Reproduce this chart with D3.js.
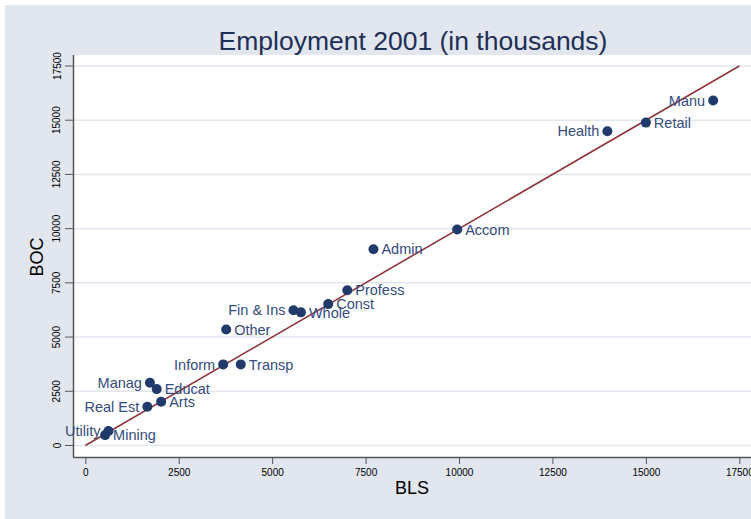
<!DOCTYPE html>
<html><head><meta charset="utf-8">
<script src="https://cdn.jsdelivr.net/npm/d3@7"></script>
<style>body{margin:0;background:#fff}svg{display:block}text{font-family:"Liberation Sans",Arial,sans-serif}</style>
</head><body><svg id="c" width="751" height="519"></svg>
<script>
const labels = ["Manu","Retail","Health","Accom","Admin","Profess","Const","Whole","Fin & Ins","Other","Inform","Transp","Manag","Educat","Arts","Real Est","Utility","Mining"];
const bls = [16800,15000,13970,9950,7710,7010,6500,5770,5570,3770,3690,4160,1730,1910,2030,1660,620,530];
const boc = [15910,14890,14490,9960,9050,7160,6520,6140,6240,5350,3740,3740,2890,2600,2020,1790,670,480];
const labelLeft = ["Manu","Health","Fin & Ins","Inform","Manag","Real Est","Utility"];
const ticks = [0,2500,5000,7500,10000,12500,15000,17500];
const fitLine = [0,17500];

const svg = d3.select("#c");
svg.append("rect").attr("x",5).attr("y",5).attr("width",760).attr("height",520).attr("fill","#e1e6ef");
const x = d3.scaleLinear().domain([0,17500]).range([85.3,739.3]);
const y = d3.scaleLinear().domain([0,17500]).range([445.5,66]);
const L=73, T=55, B=457;
svg.append("rect").attr("x",L).attr("y",T).attr("width",760-L).attr("height",B-T).attr("fill","#fff");
// grid
svg.append("g").selectAll("line").data(ticks).join("line")
  .attr("x1",L).attr("x2",760).attr("y1",d=>y(d)).attr("y2",d=>y(d))
  .attr("stroke","#e1e6ef").attr("stroke-width",1.5);
// axes
const ya = svg.append("g").attr("transform",`translate(${L},0)`)
  .call(d3.axisLeft(y).tickValues(ticks).tickSize(8).tickFormat(d3.format("d")));
ya.select(".domain").attr("d",`M0.5,${T}V${B}`);
ya.selectAll(".tick").attr("transform",null);
ya.selectAll(".tick line").attr("y1",d=>y(d)).attr("y2",d=>y(d)).attr("x2",-8);
ya.selectAll(".tick text").each(function(d){
  d3.select(this).attr("x",-16).attr("y",y(d)).attr("dy","0.35em")
    .attr("text-anchor","middle").attr("transform",`rotate(-90,-16,${y(d)})`);
}).style("font-size","10px");
const xa = svg.append("g").attr("transform",`translate(0,${B})`)
  .call(d3.axisBottom(x).tickValues(ticks).tickSize(7).tickPadding(5).tickFormat(d3.format("d")));
xa.select(".domain").attr("d",`M${L},0.5H760`);
xa.selectAll("text").style("font-size","10px");
svg.selectAll(".domain").attr("stroke","#555").attr("stroke-width",1.5);
svg.selectAll(".tick line").attr("stroke","#555");
svg.selectAll(".tick text").attr("fill","#000");
// line
svg.append("line").attr("x1",x(fitLine[0])).attr("y1",y(fitLine[0])).attr("x2",x(fitLine[1])).attr("y2",y(fitLine[1]))
  .attr("stroke","#90353b").attr("stroke-width",1.6);
// points
const data = labels.map((l,i)=>({l,bx:bls[i],by:boc[i]}));
svg.append("g").selectAll("circle").data(data).join("circle")
  .attr("cx",d=>x(d.bx)).attr("cy",d=>y(d.by)).attr("r",5).attr("fill","#1f3a6b");
svg.append("g").selectAll("text").data(data).join("text")
  .attr("x",d=>labelLeft.includes(d.l)?x(d.bx)-8:x(d.bx)+8)
  .attr("y",d=>y(d.by)).attr("dy","0.36em")
  .attr("text-anchor",d=>labelLeft.includes(d.l)?"end":"start")
  .attr("fill","#344c7e").style("font-size","14.5px").text(d=>d.l);
// titles
svg.append("text").attr("x",413).attr("y",50).attr("text-anchor","middle").attr("fill","#1e2f55")
  .style("font-size","26.5px").text("Employment 2001 (in thousands)");
svg.append("text").attr("x",412).attr("y",494).attr("text-anchor","middle").style("font-size","18px").text("BLS");
svg.append("text").attr("transform","translate(43,257) rotate(-90)").attr("text-anchor","middle").style("font-size","18px").text("BOC");
</script></body></html>
